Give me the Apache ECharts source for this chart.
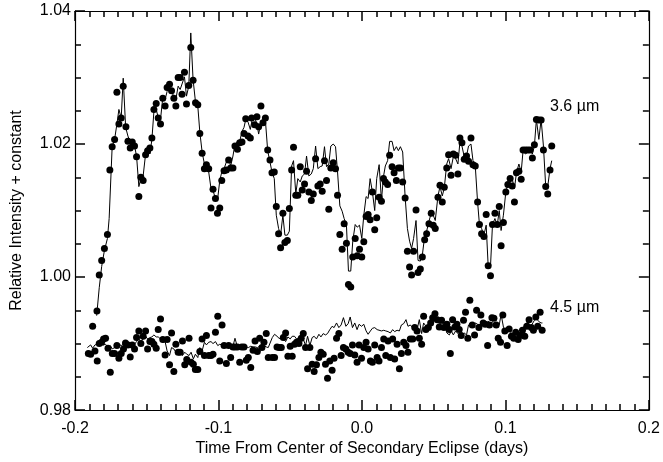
<!DOCTYPE html>
<html>
<head>
<meta charset="utf-8">
<script src="https://cdn.jsdelivr.net/npm/echarts@6/dist/echarts.min.js"></script>
</head>
<body style="margin:0">
<div id="chart" style="width:663px;height:462px"></div>
<script>
const xTicks = [-0.2, -0.1, 0.0, 0.1, 0.2];
const yTicks = [0.98, 1.00, 1.02, 1.04];
const bandLabels = ["3.6 µm", "4.5 µm"];
const t36 = [-0.1847,-0.1831,-0.1814,-0.1795,-0.1774,-0.1757,-0.1741,-0.1724,-0.1708,-0.1694,-0.1678,-0.1664,-0.1645,-0.1631,-0.1615,-0.1601,-0.1585,-0.1571,-0.1555,-0.1541,-0.1525,-0.1508,-0.1494,-0.1478,-0.1464,-0.1450,-0.1434,-0.1420,-0.1404,-0.1388,-0.1372,-0.1358,-0.1341,-0.1327,-0.1311,-0.1297,-0.1281,-0.1267,-0.1254,-0.1237,-0.1223,-0.1207,-0.1193,-0.1177,-0.1160,-0.1144,-0.1130,-0.1114,-0.1098,-0.1084,-0.1068,-0.1052,-0.1038,-0.1021,-0.1007,-0.0991,-0.0977,-0.0961,-0.0945,-0.0929,-0.0915,-0.0899,-0.0885,-0.0868,-0.0852,-0.0836,-0.0822,-0.0810,-0.0794,-0.0778,-0.0769,-0.0748,-0.0732,-0.0720,-0.0704,-0.0690,-0.0673,-0.0657,-0.0641,-0.0627,-0.0611,-0.0597,-0.0581,-0.0567,-0.0551,-0.0537,-0.0520,-0.0506,-0.0490,-0.0477,-0.0461,-0.0447,-0.0430,-0.0416,-0.0400,-0.0386,-0.0370,-0.0353,-0.0339,-0.0323,-0.0307,-0.0291,-0.0277,-0.0261,-0.0247,-0.0231,-0.0217,-0.0200,-0.0184,-0.0170,-0.0154,-0.0138,-0.0124,-0.0108,-0.0094,-0.0078,-0.0064,-0.0047,-0.0033,-0.0017,-0.0001,0.0013,0.0029,0.0043,0.0057,0.0073,0.0089,0.0103,0.0120,0.0136,0.0150,0.0163,0.0179,0.0193,0.0210,0.0224,0.0240,0.0254,0.0268,0.0284,0.0301,0.0317,0.0332,0.0346,0.0360,0.0377,0.0391,0.0407,0.0421,0.0437,0.0451,0.0467,0.0483,0.0497,0.0511,0.0530,0.0544,0.0560,0.0574,0.0591,0.0604,0.0621,0.0637,0.0653,0.0669,0.0683,0.0697,0.0713,0.0729,0.0743,0.0760,0.0774,0.0790,0.0806,0.0819,0.0834,0.0850,0.0866,0.0880,0.0896,0.0910,0.0927,0.0943,0.0957,0.0970,0.0986,0.1003,0.1017,0.1033,0.1047,0.1063,0.1077,0.1094,0.1110,0.1123,0.1140,0.1156,0.1172,0.1188,0.1202,0.1216,0.1233,0.1249,0.1265,0.1281,0.1295,0.1311,0.1323];
const f36 = [0.9949,1.0003,1.0025,1.0043,1.0064,1.0161,1.0196,1.0207,1.0278,1.0230,1.0239,1.0287,1.0226,1.0204,1.0194,1.0203,1.0197,1.0181,1.0121,1.0150,1.0145,1.0184,1.0190,1.0194,1.0209,1.0252,1.0261,1.0239,1.0230,1.0269,1.0257,1.0285,1.0290,1.0280,1.0269,1.0257,1.0300,1.0300,1.0275,1.0308,1.0260,1.0288,1.0345,1.0296,1.0262,1.0259,1.0216,1.0186,1.0163,1.0169,1.0163,1.0104,1.0132,1.0118,1.0096,1.0104,1.0145,1.0160,1.0161,1.0176,1.0164,1.0164,1.0197,1.0192,1.0202,1.0203,1.0216,1.0238,1.0212,1.0209,1.0239,1.0229,1.0241,1.0226,1.0257,1.0232,1.0239,1.0191,1.0176,1.0157,1.0158,1.0106,1.0065,1.0044,1.0096,1.0052,1.0055,1.0103,1.0161,1.0195,1.0123,1.0123,1.0166,1.0131,1.0140,1.0159,1.0128,1.0115,1.0125,1.0178,1.0137,1.0140,1.0129,1.0175,1.0145,1.0102,1.0164,1.0172,1.0163,1.0123,1.0064,1.0042,1.0080,1.0051,0.9989,0.9985,1.0030,1.0058,1.0032,1.0042,1.0030,1.0053,1.0091,1.0094,1.0086,1.0128,1.0071,1.0089,1.0120,1.0114,1.0148,1.0143,1.0139,1.0183,1.0166,1.0157,1.0145,1.0164,1.0164,1.0143,1.0119,1.0039,1.0015,1.0003,1.0039,1.0101,1.0007,1.0012,1.0030,1.0056,1.0065,1.0080,1.0096,1.0078,1.0073,1.0120,1.0138,1.0113,1.0135,1.0164,1.0184,1.0153,1.0185,1.0183,1.0155,1.0209,1.0202,1.0177,1.0182,1.0174,1.0209,1.0169,1.0167,1.0113,1.0079,1.0065,1.0061,1.0094,1.0017,1.0002,1.0079,1.0096,1.0079,1.0106,1.0047,1.0082,1.0128,1.0139,1.0148,1.0137,1.0113,1.0157,1.0159,1.0147,1.0191,1.0191,1.0191,1.0191,1.0179,1.0199,1.0237,1.0236,1.0236,1.0191,1.0136,1.0125,1.0161,1.0197];
const t36c = [-0.1849,-0.1831,-0.1814,-0.1795,-0.1774,-0.1762,-0.1741,-0.1724,-0.1708,-0.1694,-0.1678,-0.1664,-0.1647,-0.1631,-0.1615,-0.1601,-0.1585,-0.1571,-0.1555,-0.1541,-0.1525,-0.1508,-0.1494,-0.1478,-0.1464,-0.1450,-0.1434,-0.1420,-0.1404,-0.1388,-0.1372,-0.1358,-0.1341,-0.1327,-0.1311,-0.1297,-0.1281,-0.1267,-0.1254,-0.1237,-0.1223,-0.1207,-0.1193,-0.1177,-0.1160,-0.1144,-0.1130,-0.1114,-0.1098,-0.1084,-0.1068,-0.1052,-0.1038,-0.1021,-0.1007,-0.0991,-0.0977,-0.0961,-0.0945,-0.0929,-0.0915,-0.0899,-0.0885,-0.0868,-0.0852,-0.0836,-0.0822,-0.0810,-0.0794,-0.0778,-0.0765,-0.0748,-0.0732,-0.0720,-0.0704,-0.0690,-0.0673,-0.0657,-0.0641,-0.0627,-0.0611,-0.0597,-0.0581,-0.0567,-0.0551,-0.0537,-0.0520,-0.0506,-0.0490,-0.0477,-0.0461,-0.0447,-0.0430,-0.0416,-0.0400,-0.0386,-0.0370,-0.0353,-0.0339,-0.0323,-0.0307,-0.0291,-0.0277,-0.0261,-0.0247,-0.0231,-0.0217,-0.0200,-0.0184,-0.0170,-0.0154,-0.0138,-0.0124,-0.0108,-0.0094,-0.0078,-0.0064,-0.0047,-0.0033,-0.0017,-0.0001,0.0013,0.0029,0.0043,0.0057,0.0073,0.0089,0.0103,0.0120,0.0136,0.0150,0.0163,0.0179,0.0193,0.0210,0.0224,0.0240,0.0254,0.0268,0.0284,0.0301,0.0317,0.0332,0.0346,0.0360,0.0377,0.0391,0.0407,0.0421,0.0437,0.0451,0.0467,0.0483,0.0497,0.0511,0.0530,0.0544,0.0560,0.0574,0.0591,0.0604,0.0621,0.0637,0.0653,0.0669,0.0683,0.0697,0.0713,0.0729,0.0743,0.0760,0.0774,0.0790,0.0806,0.0819,0.0834,0.0850,0.0866,0.0880,0.0896,0.0910,0.0927,0.0943,0.0957,0.0970,0.0986,0.1003,0.1017,0.1033,0.1047,0.1063,0.1077,0.1094,0.1110,0.1123,0.1140,0.1156,0.1172,0.1188,0.1202,0.1216,0.1233,0.1249,0.1265,0.1281,0.1295,0.1311,0.1323];
const f36c = [0.9942,0.9984,1.0016,1.0040,1.0058,1.0088,1.0196,1.0207,1.0230,1.0252,1.0239,1.0299,1.0225,1.0212,1.0203,1.0204,1.0197,1.0182,1.0136,1.0148,1.0152,1.0185,1.0193,1.0185,1.0207,1.0249,1.0252,1.0240,1.0237,1.0270,1.0267,1.0279,1.0285,1.0278,1.0272,1.0267,1.0287,1.0282,1.0282,1.0301,1.0272,1.0287,1.0367,1.0297,1.0263,1.0257,1.0218,1.0188,1.0170,1.0167,1.0158,1.0133,1.0130,1.0118,1.0115,1.0145,1.0158,1.0163,1.0173,1.0178,1.0167,1.0182,1.0200,1.0203,1.0204,1.0219,1.0225,1.0237,1.0233,1.0222,1.0237,1.0240,1.0230,1.0215,1.0233,1.0233,1.0236,1.0190,1.0173,1.0158,1.0148,1.0093,1.0073,1.0063,1.0093,1.0063,1.0063,1.0069,1.0167,1.0175,1.0125,1.0148,1.0143,1.0152,1.0155,1.0182,1.0152,1.0155,1.0163,1.0197,1.0163,1.0166,1.0167,1.0196,1.0166,1.0170,1.0197,1.0200,1.0196,1.0158,1.0107,1.0099,1.0088,1.0078,1.0009,1.0009,1.0054,1.0079,1.0075,1.0078,1.0058,1.0093,1.0121,1.0118,1.0148,1.0128,1.0100,1.0148,1.0169,1.0115,1.0151,1.0167,1.0175,1.0204,1.0204,1.0190,1.0196,1.0190,1.0196,1.0188,1.0121,1.0073,1.0054,1.0043,1.0058,1.0085,1.0025,1.0024,1.0033,1.0061,1.0069,1.0084,1.0096,1.0093,1.0085,1.0122,1.0136,1.0122,1.0134,1.0170,1.0178,1.0163,1.0181,1.0178,1.0170,1.0203,1.0197,1.0181,1.0182,1.0197,1.0200,1.0175,1.0167,1.0113,1.0079,1.0073,1.0063,1.0078,1.0016,1.0016,1.0079,1.0088,1.0078,1.0100,1.0070,1.0093,1.0128,1.0140,1.0143,1.0148,1.0133,1.0157,1.0170,1.0158,1.0190,1.0185,1.0188,1.0190,1.0185,1.0197,1.0237,1.0207,1.0237,1.0197,1.0136,1.0136,1.0163,1.0175];
const t45 = [-0.1907,-0.1891,-0.1877,-0.1861,-0.1845,-0.1831,-0.1815,-0.1801,-0.1787,-0.1770,-0.1754,-0.1740,-0.1724,-0.1708,-0.1694,-0.1678,-0.1662,-0.1648,-0.1631,-0.1615,-0.1601,-0.1585,-0.1571,-0.1555,-0.1541,-0.1525,-0.1508,-0.1494,-0.1478,-0.1464,-0.1450,-0.1434,-0.1420,-0.1404,-0.1388,-0.1372,-0.1358,-0.1341,-0.1327,-0.1311,-0.1297,-0.1281,-0.1267,-0.1251,-0.1235,-0.1221,-0.1205,-0.1191,-0.1175,-0.1161,-0.1144,-0.1130,-0.1114,-0.1098,-0.1084,-0.1068,-0.1052,-0.1038,-0.1021,-0.1005,-0.0991,-0.0975,-0.0961,-0.0945,-0.0929,-0.0915,-0.0899,-0.0885,-0.0868,-0.0852,-0.0838,-0.0822,-0.0806,-0.0792,-0.0775,-0.0759,-0.0745,-0.0729,-0.0713,-0.0697,-0.0683,-0.0667,-0.0653,-0.0625,-0.0609,-0.0592,-0.0578,-0.0562,-0.0548,-0.0532,-0.0516,-0.0500,-0.0486,-0.0470,-0.0456,-0.0439,-0.0423,-0.0409,-0.0393,-0.0379,-0.0363,-0.0347,-0.0333,-0.0317,-0.0300,-0.0286,-0.0270,-0.0254,-0.0240,-0.0224,-0.0208,-0.0194,-0.0177,-0.0161,-0.0145,-0.0129,-0.0112,-0.0096,-0.0082,-0.0066,-0.0050,-0.0034,-0.0020,-0.0003,0.0013,0.0029,0.0043,0.0059,0.0073,0.0089,0.0106,0.0119,0.0136,0.0152,0.0166,0.0182,0.0198,0.0214,0.0228,0.0245,0.0261,0.0275,0.0291,0.0307,0.0321,0.0337,0.0354,0.0368,0.0384,0.0400,0.0416,0.0430,0.0446,0.0463,0.0479,0.0493,0.0509,0.0525,0.0539,0.0555,0.0571,0.0592,0.0609,0.0616,0.0632,0.0648,0.0662,0.0678,0.0692,0.0708,0.0722,0.0738,0.0752,0.0769,0.0785,0.0799,0.0815,0.0829,0.0845,0.0859,0.0876,0.0889,0.0906,0.0920,0.0936,0.0950,0.0966,0.0982,0.0996,0.1012,0.1026,0.1042,0.1058,0.1072,0.1089,0.1102,0.1119,0.1135,0.1149,0.1165,0.1181,0.1195,0.1212,0.1225,0.1242,0.1256];
const f45 = [0.9885,0.9884,0.9926,0.9889,0.9874,0.9900,0.9902,0.9907,0.9908,0.9893,0.9857,0.9885,0.9885,0.9897,0.9878,0.9885,0.9892,0.9901,0.9898,0.9880,0.9898,0.9892,0.9909,0.9919,0.9900,0.9911,0.9919,0.9892,0.9903,0.9903,0.9899,0.9893,0.9921,0.9937,0.9906,0.9883,0.9906,0.9868,0.9916,0.9858,0.9899,0.9887,0.9887,0.9904,0.9868,0.9876,0.9908,0.9872,0.9869,0.9861,0.9861,0.9888,0.9907,0.9882,0.9912,0.9882,0.9882,0.9884,0.9917,0.9941,0.9874,0.9928,0.9897,0.9870,0.9897,0.9879,0.9895,0.9895,0.9895,0.9872,0.9895,0.9895,0.9875,0.9879,0.9864,0.9890,0.9904,0.9888,0.9908,0.9894,0.9902,0.9915,0.9879,0.9879,0.9879,0.9895,0.9894,0.9894,0.9909,0.9916,0.9881,0.9896,0.9881,0.9899,0.9902,0.9900,0.9908,0.9915,0.9894,0.9862,0.9894,0.9869,0.9858,0.9868,0.9879,0.9887,0.9884,0.9869,0.9848,0.9874,0.9860,0.9878,0.9908,0.9915,0.9882,0.9894,0.9892,0.9887,0.9885,0.9898,0.9883,0.9872,0.9898,0.9878,0.9894,0.9902,0.9892,0.9874,0.9872,0.9898,0.9879,0.9874,0.9894,0.9907,0.9882,0.9904,0.9879,0.9907,0.9877,0.9899,0.9862,0.9885,0.9902,0.9897,0.9887,0.9907,0.9907,0.9924,0.9919,0.9908,0.9899,0.9941,0.9921,0.9924,0.9931,0.9939,0.9945,0.9936,0.9925,0.9935,0.9924,0.9929,0.9921,0.9885,0.9936,0.9925,0.9929,0.9921,0.9912,0.9935,0.9947,0.9908,0.9965,0.9928,0.9913,0.9950,0.9924,0.9943,0.9931,0.9929,0.9897,0.9928,0.9939,0.9938,0.9928,0.9908,0.9902,0.9943,0.9919,0.9897,0.9922,0.9911,0.9908,0.9917,0.9906,0.9912,0.9920,0.9911,0.9926,0.9936,0.9924,0.9920,0.9940,0.9926,0.9947,0.9920];
const t45c = [-0.1914,-0.1891,-0.1877,-0.1861,-0.1831,-0.1815,-0.1801,-0.1787,-0.1770,-0.1754,-0.1740,-0.1724,-0.1708,-0.1694,-0.1678,-0.1662,-0.1648,-0.1631,-0.1615,-0.1601,-0.1585,-0.1571,-0.1555,-0.1541,-0.1525,-0.1508,-0.1494,-0.1478,-0.1464,-0.1450,-0.1434,-0.1420,-0.1404,-0.1388,-0.1372,-0.1358,-0.1341,-0.1327,-0.1311,-0.1297,-0.1281,-0.1267,-0.1251,-0.1235,-0.1221,-0.1205,-0.1191,-0.1175,-0.1161,-0.1144,-0.1130,-0.1114,-0.1098,-0.1084,-0.1068,-0.1052,-0.1038,-0.1021,-0.1005,-0.0991,-0.0975,-0.0961,-0.0945,-0.0929,-0.0915,-0.0899,-0.0885,-0.0868,-0.0852,-0.0838,-0.0822,-0.0806,-0.0792,-0.0775,-0.0759,-0.0745,-0.0729,-0.0713,-0.0697,-0.0683,-0.0667,-0.0653,-0.0625,-0.0609,-0.0592,-0.0578,-0.0562,-0.0548,-0.0532,-0.0516,-0.0500,-0.0486,-0.0470,-0.0456,-0.0439,-0.0423,-0.0409,-0.0393,-0.0379,-0.0363,-0.0347,-0.0333,-0.0317,-0.0300,-0.0286,-0.0270,-0.0254,-0.0240,-0.0224,-0.0208,-0.0194,-0.0177,-0.0161,-0.0145,-0.0129,-0.0112,-0.0096,-0.0082,-0.0066,-0.0050,-0.0034,-0.0020,-0.0003,0.0013,0.0029,0.0043,0.0059,0.0073,0.0089,0.0106,0.0119,0.0136,0.0152,0.0166,0.0182,0.0198,0.0214,0.0228,0.0245,0.0261,0.0275,0.0291,0.0307,0.0321,0.0337,0.0354,0.0368,0.0384,0.0400,0.0416,0.0430,0.0446,0.0463,0.0479,0.0493,0.0509,0.0525,0.0539,0.0555,0.0571,0.0592,0.0609,0.0623,0.0637,0.0653,0.0669,0.0683,0.0697,0.0713,0.0729,0.0743,0.0760,0.0774,0.0790,0.0806,0.0819,0.0836,0.0850,0.0866,0.0880,0.0896,0.0910,0.0926,0.0942,0.0957,0.0970,0.0987,0.1003,0.1017,0.1033,0.1047,0.1063,0.1077,0.1093,0.1110,0.1123,0.1140,0.1156,0.1172,0.1186,0.1202,0.1216,0.1233,0.1249,0.1258];
const f45c = [0.9894,0.9898,0.9893,0.9898,0.9900,0.9899,0.9898,0.9899,0.9894,0.9897,0.9892,0.9894,0.9894,0.9899,0.9897,0.9899,0.9896,0.9898,0.9900,0.9897,0.9899,0.9903,0.9907,0.9903,0.9907,0.9911,0.9907,0.9909,0.9910,0.9913,0.9910,0.9910,0.9907,0.9902,0.9903,0.9889,0.9882,0.9894,0.9892,0.9887,0.9885,0.9887,0.9882,0.9887,0.9884,0.9882,0.9887,0.9877,0.9884,0.9879,0.9894,0.9889,0.9902,0.9898,0.9902,0.9903,0.9900,0.9903,0.9897,0.9899,0.9898,0.9896,0.9897,0.9898,0.9900,0.9896,0.9908,0.9895,0.9897,0.9896,0.9896,0.9895,0.9894,0.9896,0.9895,0.9895,0.9894,0.9896,0.9894,0.9897,0.9895,0.9894,0.9909,0.9914,0.9911,0.9908,0.9907,0.9907,0.9903,0.9910,0.9907,0.9911,0.9911,0.9907,0.9909,0.9905,0.9907,0.9897,0.9911,0.9897,0.9909,0.9911,0.9907,0.9914,0.9910,0.9915,0.9913,0.9915,0.9921,0.9926,0.9924,0.9931,0.9924,0.9928,0.9939,0.9926,0.9930,0.9940,0.9924,0.9931,0.9921,0.9929,0.9926,0.9929,0.9919,0.9914,0.9919,0.9923,0.9924,0.9921,0.9919,0.9919,0.9920,0.9919,0.9918,0.9916,0.9921,0.9918,0.9920,0.9919,0.9928,0.9930,0.9936,0.9926,0.9928,0.9924,0.9921,0.9921,0.9936,0.9915,0.9931,0.9926,0.9924,0.9928,0.9931,0.9936,0.9933,0.9930,0.9931,0.9930,0.9916,0.9913,0.9919,0.9913,0.9919,0.9915,0.9911,0.9910,0.9916,0.9913,0.9928,0.9931,0.9925,0.9931,0.9929,0.9931,0.9928,0.9933,0.9925,0.9934,0.9930,0.9933,0.9926,0.9930,0.9928,0.9944,0.9924,0.9919,0.9918,0.9919,0.9913,0.9916,0.9913,0.9915,0.9919,0.9924,0.9928,0.9933,0.9926,0.9929,0.9935,0.9938,0.9933,0.9931,0.9931];

const FONT = '"Liberation Sans", Arial, sans-serif';
const xMin = xTicks[0], xMax = xTicks[xTicks.length - 1];
const yMin = yTicks[0], yMax = yTicks[yTicks.length - 1];
const zip = (a, b) => { const n = Math.min(a.length, b.length); const out = []; for (let i = 0; i < n; i++) out.push([a[i], b[i]]); return out; };
const TICK = { color: '#000', width: 1.5 };

function mkX(pos, lab) {
  return { type: 'value', min: xMin, max: xMax, interval: 0.1, position: pos,
    axisLine: { show: true, onZero: false, lineStyle: { color: '#000', width: 1.2 } },
    axisTick: { show: true, inside: true, length: 10, lineStyle: TICK },
    minorTick: { show: true, splitNumber: 10, length: 6, lineStyle: TICK },
    splitLine: { show: false }, minorSplitLine: { show: false },
    axisLabel: lab ? { show: true, margin: 10, fontFamily: FONT, fontSize: 16, color: '#000',
      showMinLabel: true, showMaxLabel: true, formatter: v => v.toFixed(1) } : { show: false } };
}
function mkY(pos, lab) {
  return { type: 'value', min: yMin, max: yMax, interval: 0.02, position: pos,
    axisLine: { show: true, onZero: false, lineStyle: { color: '#000', width: 1.2 } },
    axisTick: { show: true, inside: true, length: 10, lineStyle: TICK },
    minorTick: { show: true, splitNumber: 4, length: 6, lineStyle: TICK },
    splitLine: { show: false }, minorSplitLine: { show: false },
    axisLabel: lab ? { show: true, margin: 4, fontFamily: FONT, fontSize: 16, color: '#000',
      showMinLabel: true, showMaxLabel: true, formatter: v => v.toFixed(2) } : { show: false } };
}
const xb = mkX('bottom', true), yl = mkY('left', true);
Object.assign(xb, { name: 'Time From Center of Secondary Eclipse (days)', nameLocation: 'middle', nameGap: 27,
  nameTextStyle: { fontFamily: FONT, fontSize: 16, color: '#000' } });
Object.assign(yl, { name: 'Relative Intensity + constant', nameLocation: 'middle', nameGap: 50, nameRotate: 90,
  nameTextStyle: { fontFamily: FONT, fontSize: 16, color: '#000' } });

const chart = echarts.init(document.getElementById('chart'));
chart.setOption({
  animation: false,
  backgroundColor: '#fff',
  grid: { left: 75, right: 13, top: 11, bottom: 49, containLabel: false },
  xAxis: [xb, mkX('top', false)],
  yAxis: [yl, mkY('right', false)],
  series: [
    { type: 'line', data: zip(t36c, f36c), showSymbol: false, symbol: 'none',
      lineStyle: { color: '#000', width: 1 } },
    { type: 'scatter', data: zip(t36, f36), symbolSize: 7, itemStyle: { color: '#000', opacity: 1 } },
    { type: 'line', data: zip(t45c, f45c), showSymbol: false, symbol: 'none',
      lineStyle: { color: '#000', width: 1 } },
    { type: 'scatter', data: zip(t45, f45), symbolSize: 7, itemStyle: { color: '#000', opacity: 1 } }
  ],
  graphic: [
    { type: 'text', left: 550, top: 99, style: { text: bandLabels[0], font: '16px ' + FONT, fill: '#000' } },
    { type: 'text', left: 550, top: 300, style: { text: bandLabels[1], font: '16px ' + FONT, fill: '#000' } }
  ]
});
</script>
</body>
</html>
